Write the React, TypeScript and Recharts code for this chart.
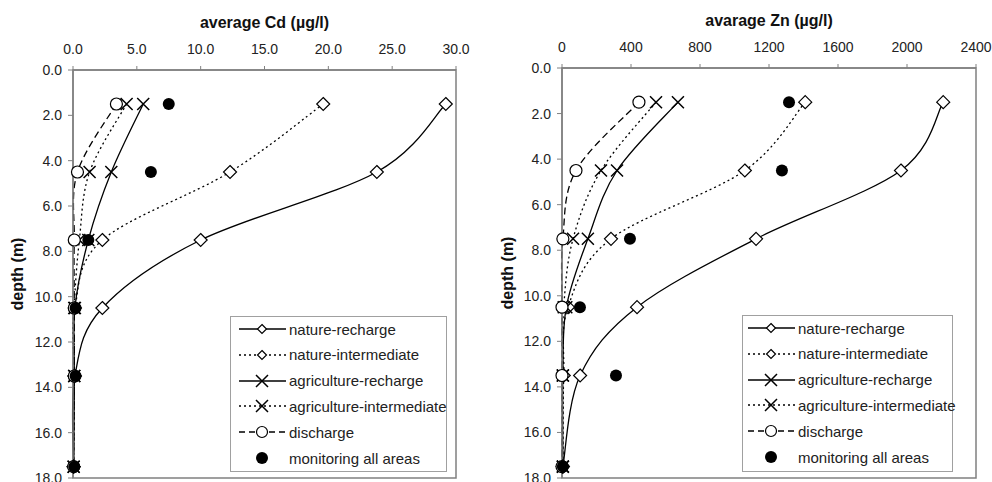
import React from 'react';
import { LineChart, Line, XAxis, YAxis, ReferenceArea } from 'recharts';

const FONT = '"Liberation Sans", Arial, Helvetica, sans-serif';
const GREY = '#808080';

// depths (m) at which the samples were averaged
const depths = [1.5, 4.5, 7.5, 10.5, 13.5, 17.5];

// average Cd (ug/l)
const cdNatureRecharge = [29.2, 23.8, 10.0, 2.3, 0.15, 0.05];
const cdNatureIntermediate = [19.6, 12.3, 2.3, 0.15, 0.1, 0.05];
const cdAgriRecharge = [5.5, 3.0, 1.2, 0.15, 0.1, 0.05];
const cdAgriIntermediate = [4.2, 1.3, 0.5, 0.1, 0.1, 0.05];
const cdDischarge = [3.4, 0.35, 0.1, 0.1, 0.1, 0.05];
const cdMonitoring = [7.5, 6.1, 1.2, 0.2, 0.2, 0.1];

// average Zn (ug/l)
const znNatureRecharge = [2210, 1965, 1125, 435, 105, 5];
const znNatureIntermediate = [1410, 1060, 284, 35, 10, 5];
const znAgriRecharge = [672, 319, 150, 25, 5, 5];
const znAgriIntermediate = [545, 226, 64, 10, 5, 5];
const znDischarge = [446, 81, 5, 0, 0, 0];
const znMonitoring = [1316, 1275, 394, 104, 313, 5];

const depthTicks = [0, 2, 4, 6, 8, 10, 12, 14, 16, 18];
const cdTicks = [0, 5, 10, 15, 20, 25, 30];
const znTicks = [0, 400, 800, 1200, 1600, 2000, 2400];

const legendLabels = [
  'nature-recharge',
  'nature-intermediate',
  'agriculture-recharge',
  'agriculture-intermediate',
  'discharge',
  'monitoring all areas',
];

const buildRows = (nr: number[], ni: number[], ar: number[], ai: number[], dis: number[], mon: number[]) =>
  depths.map((depth, i) => ({ depth, nr: nr[i], ni: ni[i], ar: ar[i], ai: ai[i], dis: dis[i], mon: mon[i] }));

const cdData = buildRows(cdNatureRecharge, cdNatureIntermediate, cdAgriRecharge, cdAgriIntermediate, cdDischarge, cdMonitoring);
const znData = buildRows(znNatureRecharge, znNatureIntermediate, znAgriRecharge, znAgriIntermediate, znDischarge, znMonitoring);

// excel-like smoothed line (catmull-rom through the points)
const excelSmooth: any = (context: any) => {
  let pts: number[][] = [];
  return {
    areaStart() {},
    areaEnd() {},
    lineStart() {
      pts = [];
    },
    point(x: number, y: number) {
      pts.push([+x, +y]);
    },
    lineEnd() {
      const n = pts.length;
      if (!n) return;
      context.moveTo(pts[0][0], pts[0][1]);
      for (let i = 0; i < n - 1; i++) {
        const p0 = pts[i - 1] || pts[i];
        const p1 = pts[i];
        const p2 = pts[i + 1];
        const p3 = pts[i + 2] || p2;
        context.bezierCurveTo(
          p1[0] + (p2[0] - p0[0]) / 6,
          p1[1] + (p2[1] - p0[1]) / 6,
          p2[0] - (p3[0] - p1[0]) / 6,
          p2[1] - (p3[1] - p1[1]) / 6,
          p2[0],
          p2[1]
        );
      }
    },
  };
};

const Diamond = ({ cx, cy, r = 6.5 }: any) => (
  <path d={`M${cx},${cy - r}L${cx + r},${cy}L${cx},${cy + r}L${cx - r},${cy}Z`} fill="#fff" stroke="#000" strokeWidth={1.2} />
);
const Cross = ({ cx, cy, r = 6 }: any) => (
  <path d={`M${cx - r},${cy - r}L${cx + r},${cy + r}M${cx - r},${cy + r}L${cx + r},${cy - r}`} stroke="#000" strokeWidth={1.5} fill="none" />
);
const OpenCircle = ({ cx, cy, r = 6 }: any) => <circle cx={cx} cy={cy} r={r} fill="#fff" stroke="#000" strokeWidth={1.2} />;
const Filled = ({ cx, cy, r = 6 }: any) => <circle cx={cx} cy={cy} r={r} fill="#000" />;

const dotOf = (Shape: any) => (props: any) => <Shape key={`d-${props.dataKey}-${props.index}`} cx={props.cx} cy={props.cy} />;

const seriesDefs = [
  { key: 'nr', dash: undefined, shape: Diamond },
  { key: 'ni', dash: '2 3', shape: Diamond },
  { key: 'ar', dash: undefined, shape: Cross },
  { key: 'ai', dash: '2 3', shape: Cross },
  { key: 'dis', dash: '7 4', shape: OpenCircle },
];

interface ProfileProps {
  left: number;
  width: number;
  title: string;
  titleTop: number;
  data: any[];
  xMax: number;
  xTicks: number[];
  fmt: (v: number) => string;
  margin: { top: number; right: number; bottom: number; left: number };
  labelX: number;
}

const Profile = ({ left, width, title, titleTop, data, xMax, xTicks, fmt, margin, labelX }: ProfileProps) => {
  const plotLeft = margin.left + 60;
  const plotRight = width - margin.right;
  const plotTop = margin.top + 40;
  const plotBottom = 482 - margin.bottom;
  return (
    <div style={{ position: 'absolute', left, top: 0, width, height: 482 }}>
      <div
        style={{
          position: 'absolute',
          left: plotLeft,
          width: plotRight - plotLeft,
          top: titleTop,
          textAlign: 'center',
          font: `bold 16px ${FONT}`,
          lineHeight: '20px',
          color: '#111',
        }}
      >
        {title}
      </div>
      <div
        style={{
          position: 'absolute',
          left: labelX - 60,
          top: (plotTop + plotBottom) / 2 - 10,
          width: 120,
          textAlign: 'center',
          font: `bold 16px ${FONT}`,
          lineHeight: '20px',
          color: '#111',
          transform: 'rotate(-90deg)',
        }}
      >
        depth (m)
      </div>
      <LineChart width={width} height={482} data={data} layout="vertical" margin={margin}>
        <ReferenceArea x1={0} x2={xMax} y1={0} y2={18} fill="none" stroke={GREY} strokeWidth={1.5} ifOverflow="visible" />
        <XAxis
          type="number"
          orientation="top"
          height={40}
          domain={[0, xMax]}
          ticks={xTicks}
          interval={0}
          tickFormatter={fmt}
          tickSize={4}
          tickMargin={12}
          axisLine={{ stroke: GREY, strokeWidth: 1.5 }}
          tickLine={{ stroke: GREY }}
          tick={{ fontSize: 14, fill: '#222', fontFamily: FONT }}
        />
        <YAxis
          type="number"
          dataKey="depth"
          width={60}
          domain={[0, 18]}
          ticks={depthTicks}
          interval={0}
          tickFormatter={(v: number) => v.toFixed(1)}
          tickSize={5}
          tickMargin={6}
          axisLine={{ stroke: GREY, strokeWidth: 1.5 }}
          tickLine={{ stroke: GREY }}
          tick={{ fontSize: 14, fill: '#222', fontFamily: FONT }}
        />
        {seriesDefs.map((s) => (
          <Line
            key={s.key}
            dataKey={s.key}
            type={excelSmooth}
            stroke="#000"
            strokeWidth={1.3}
            strokeDasharray={s.dash}
            dot={dotOf(s.shape)}
            activeDot={false}
            isAnimationActive={false}
          />
        ))}
        <Line dataKey="mon" stroke="none" dot={dotOf(Filled)} activeDot={false} isAnimationActive={false} />
      </LineChart>
    </div>
  );
};

const legendSamples = [
  { dash: undefined, shape: 'diamond' },
  { dash: '2 3', shape: 'diamond' },
  { dash: undefined, shape: 'cross' },
  { dash: '2 3', shape: 'cross' },
  { dash: '6 4', shape: 'circle' },
  { dash: 'none', shape: 'filled' },
];

const LegendBox = ({ left, top, width, height, sampleLeft }: any) => (
  <div
    style={{
      position: 'absolute',
      left,
      top,
      width,
      height,
      boxSizing: 'border-box',
      border: '1.5px solid #a0a0a0',
      background: '#fff',
    }}
  >
    {legendLabels.map((label, i) => {
      const s = legendSamples[i];
      const cy = 12 + i * 25.8;
      return (
        <div key={label} style={{ position: 'absolute', left: sampleLeft, top: cy - 10, height: 20, display: 'flex', alignItems: 'center' }}>
          <svg width={50} height={20} style={{ display: 'block' }}>
            {s.dash !== 'none' && <line x1={1} x2={48} y1={10} y2={10} stroke="#000" strokeWidth={1.3} strokeDasharray={s.dash} />}
            {s.shape === 'diamond' && <Diamond cx={24} cy={10} r={4.5} />}
            {s.shape === 'cross' && <Cross cx={24} cy={10} r={6} />}
            {s.shape === 'circle' && <OpenCircle cx={24} cy={10} r={5.5} />}
            {s.shape === 'filled' && <Filled cx={24} cy={10} r={6} />}
          </svg>
          <span style={{ font: `15px ${FONT}`, color: '#222', marginLeft: 1, whiteSpace: 'nowrap' }}>{label}</span>
        </div>
      );
    })}
  </div>
);

export default function App() {
  return (
    <div style={{ position: 'absolute', left: 0, top: 0, width: 992, height: 482, background: '#fff', overflow: 'hidden' }}>
      <Profile
        left={0}
        width={480}
        title="average Cd (µg/l)"
        titleTop={13}
        data={cdData}
        xMax={30}
        xTicks={cdTicks}
        fmt={(v: number) => v.toFixed(1)}
        margin={{ top: 30, right: 24, bottom: 4, left: 13 }}
        labelX={18}
      />
      <Profile
        left={490}
        width={502}
        title="avarage Zn (µg/l)"
        titleTop={11}
        data={znData}
        xMax={2400}
        xTicks={znTicks}
        fmt={(v: number) => String(v)}
        margin={{ top: 28, right: 16, bottom: 4, left: 12 }}
        labelX={18}
      />
      <LegendBox left={230} top={316} width={217} height={156} sampleLeft={7} />
      <LegendBox left={742} top={315} width={211} height={157} sampleLeft={4} />
    </div>
  );
}
